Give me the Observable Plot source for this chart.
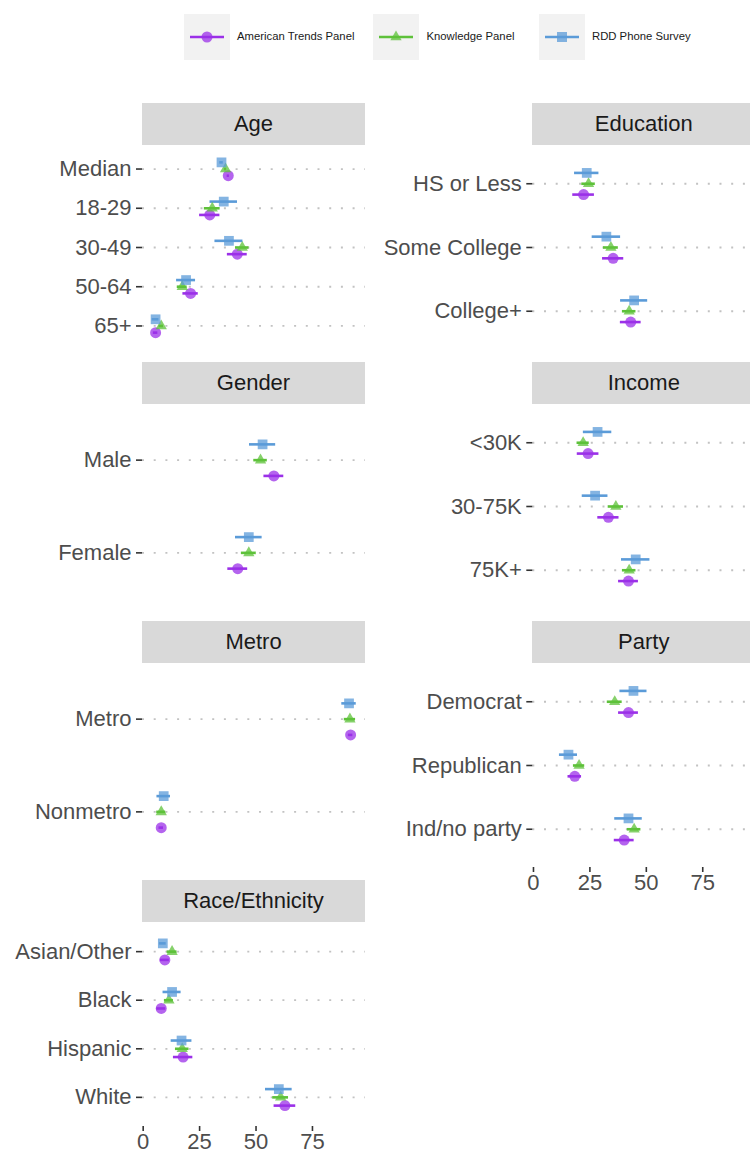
<!DOCTYPE html>
<html>
<head>
<meta charset="utf-8">
<script src="https://cdn.jsdelivr.net/npm/d3@7"></script>
<script src="https://cdn.jsdelivr.net/npm/@observablehq/plot@0.6"></script>
<style>
html, body { margin: 0; padding: 0; background: #fff; overflow: hidden; width: 750px; height: 1155px; }
#root { position: relative; width: 750px; height: 1155px; overflow: hidden; font-family: "Liberation Sans", Arial, sans-serif; }
#root svg { max-width: none !important; display: block; }
.strip { position: absolute; height: 42px; background: #d9d9d9; color: #1a1a1a; font-size: 22px; display: flex; align-items: center; justify-content: center; }
.wrap { position: absolute; }
.key { position: absolute; top: 14px; width: 46px; height: 46px; background: #f2f2f2; }
.ltext { position: absolute; top: 30px; font-size: 11.3px; color: #1a1a1a; line-height: 13px; white-space: nowrap; }
</style>
</head>
<body>
<div id="root"></div>
<script>
// ---- data ----
const seriesNames = ["American Trends Panel", "Knowledge Panel", "RDD Phone Survey"];
const seriesColors = ["#9b30e8", "#5ec13a", "#5b9bd8"];
const seriesSymbols = ["circle", "triangle", "square"];

const facetNames = ["Age", "Education", "Gender", "Income", "Metro", "Party", "Race/Ethnicity"];
const facetOf = ["Age","Age","Age","Age","Age","Education","Education","Education","Gender","Gender","Income","Income","Income","Metro","Metro","Party","Party","Party","Race/Ethnicity","Race/Ethnicity","Race/Ethnicity","Race/Ethnicity"];
const categories = ["Median","18-29","30-49","50-64","65+","HS or Less","Some College","College+","Male","Female","<30K","30-75K","75K+","Metro","Nonmetro","Democrat","Republican","Ind/no party","Asian/Other","Black","Hispanic","White"];
const atpEst = [37.7,29.5,41.7,21.0,5.5, 22.2,35.3,43.1, 57.9,41.9, 24.2,33.2,42.1, 91.9,8.0, 42.1,18.3,40.2, 9.6,8.0,17.7,62.8];
const atpMoe = [0.5,4.5,4.4,3.4,1.0, 4.8,4.7,4.6, 4.4,4.4, 4.8,4.7,4.4, 1.0,1.0, 4.4,3.0,4.4, 2.0,2.0,4.3,4.8];
const kpEst  = [36.5,30.6,43.9,17.3,8.0, 24.4,34.3,42.4, 52.0,46.8, 22.0,36.5,42.4, 91.6,8.0, 36.0,20.2,44.6, 12.8,11.4,17.3,60.9];
const kpMoe  = [0.5,3.5,3.0,2.2,1.0, 3.0,3.3,3.0, 3.0,3.3, 2.7,3.4,3.0, 2.5,2.0, 3.3,2.5,3.0, 2.2,2.0,3.0,3.5];
const rddEst = [34.7,35.7,38.0,19.0,5.5, 23.6,32.3,44.6, 52.9,46.8, 28.4,27.3,45.3, 91.2,9.1, 44.3,15.5,42.1, 8.7,12.8,17.0,60.1];
const rddMoe = [0.8,6.1,6.2,4.2,1.5, 5.4,6.3,6.0, 5.8,5.9, 6.3,5.7,6.3, 3.2,3.0, 6.0,4.0,6.1, 1.5,4.0,4.6,5.9];
const xTicks = [0, 25, 50, 75];

// ---- layout ----
const FONT = '"Liberation Sans", Arial, sans-serif';
const xDomain = [-0.3, 98.5];
const cols = [
  {svgLeft: 0, left: 142, right: 365},
  {svgLeft: 370, left: 532.3, right: 755.3}
];
const rowTops = [103, 362, 621, 880];
const stripH = 42, panelH = 204;
const layout = {"Age": [0, 0], "Education": [0, 1], "Gender": [1, 0], "Income": [1, 1], "Metro": [2, 0], "Party": [2, 1], "Race/Ethnicity": [3, 0]};
const withAxis = new Set(["Party", "Race/Ethnicity"]);
const dodge = [0.17, 0, -0.17];
const symR = [5.5, 4.2, 5.5];

const rows = [];
const estArrays = [[atpEst, atpMoe], [kpEst, kpMoe], [rddEst, rddMoe]];
categories.forEach((c, i) => {
  estArrays.forEach(([e, m], s) => {
    rows.push({facet: facetOf[i], category: c, s, series: seriesNames[s], est: e[i], lo: e[i] - m[i], hi: e[i] + m[i]});
  });
});

const root = document.getElementById("root");

// legend
const legendKeys = [183.5, 373, 538.5];
seriesNames.forEach((name, s) => {
  const k = document.createElement("div");
  k.className = "key";
  k.style.left = legendKeys[s] + "px";
  const sym = seriesSymbols[s];
  const col = seriesColors[s];
  let shape;
  if (sym === "circle") shape = `<circle cx="23" cy="23" r="5.5" fill="${col}" fill-opacity="0.75"/>`;
  else if (sym === "triangle") shape = `<path d="${d3.symbol(d3.symbolTriangle, Math.PI * symR[1] * symR[1])()}" transform="translate(23,23)" fill="${col}" fill-opacity="0.75"/>`;
  else shape = `<rect x="18" y="18" width="10" height="10" fill="${col}" fill-opacity="0.75"/>`;
  k.innerHTML = `<svg width="46" height="46"><line x1="6" x2="40" y1="23" y2="23" stroke="${col}" stroke-width="2.6"/>${shape}</svg>`;
  root.appendChild(k);
  const t = document.createElement("div");
  t.className = "ltext";
  t.style.left = (legendKeys[s] + 53.5) + "px";
  t.textContent = name;
  root.appendChild(t);
});

facetNames.forEach(f => {
  const [r, c] = layout[f];
  const col = cols[c];
  const top = rowTops[r];
  // strip
  const strip = document.createElement("div");
  strip.className = "strip";
  strip.style.left = col.left + "px";
  strip.style.top = top + "px";
  strip.style.width = (col.right - col.left) + "px";
  strip.textContent = f;
  root.appendChild(strip);

  const cats = categories.filter((_, i) => facetOf[i] === f);
  const n = cats.length;
  const data = rows.filter(d => d.facet === f).map(d => ({...d, pos: cats.indexOf(d.category) + 1 + dodge[d.s]}));
  const hasAxis = withAxis.has(f);
  const mb = hasAxis ? 28 : 0;
  const W = col.right - col.svgLeft;
  const svg = Plot.plot({
    width: W,
    height: panelH + mb,
    marginLeft: col.left - col.svgLeft,
    marginRight: 0,
    marginTop: 0,
    marginBottom: mb,
    style: {fontFamily: FONT, background: "transparent", overflow: "visible"},
    x: {domain: xDomain, axis: null, label: null},
    y: {domain: [0.4, n + 0.6], reverse: true, axis: null, label: null},
    color: {domain: seriesNames, range: seriesColors},
    symbol: {domain: seriesNames, range: seriesSymbols},
    marks: [
      Plot.ruleY(d3.range(1, n + 1), {stroke: "#c2c2c2", strokeWidth: 1.8, strokeDasharray: "2,9.7"}),
      Plot.ruleY(data, {y: "pos", x1: "lo", x2: "hi", stroke: "series", strokeWidth: 2.6}),
      ...[0, 1, 2].map(s =>
        Plot.dot(data, {filter: d => d.s === s, x: "est", y: "pos", fill: "series", symbol: "series", r: symR[s], fillOpacity: 0.75, stroke: null})
      ),
      Plot.axisY({ticks: d3.range(1, n + 1), tickFormat: i => cats[i - 1], tickSize: 6, tickPadding: 5, stroke: "#333", strokeWidth: 1.6, fill: "#4d4d4d", fontSize: 22, label: null}),
      hasAxis ? Plot.axisX({ticks: xTicks, tickSize: 5, tickPadding: 2, stroke: "#333", strokeWidth: 1.6, fill: "#4d4d4d", fontSize: 22, label: null}) : null
    ]
  });
  const wrap = document.createElement("div");
  wrap.className = "wrap";
  wrap.style.left = col.svgLeft + "px";
  wrap.style.top = (top + stripH) + "px";
  wrap.style.width = W + "px";
  wrap.appendChild(svg);
  root.appendChild(wrap);
});
</script>
</body>
</html>
